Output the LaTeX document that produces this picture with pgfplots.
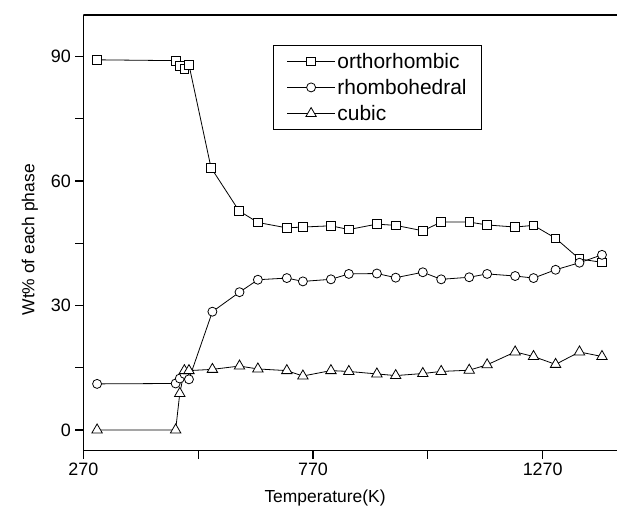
\documentclass[border=0pt]{standalone}
\usepackage{pgfplots}
\pgfplotsset{compat=1.18}
\usepackage{fontspec}
\setmainfont{Liberation Sans}
\pgfplotstableread{
T W
300 89.2
471 89.0
480 87.8
490 87.0
500 88.0
548 63.2
609 52.8
650 50.0
713 48.7
748 48.9
809 49.2
848 48.3
909 49.6
950 49.3
1009 48.0
1049 50.1
1110 50.1
1149 49.4
1210 48.9
1250 49.3
1298 46.2
1350 41.2
1399 40.4
}\ortho
\pgfplotstableread{
T W
300 11.1
471 11.2
480 12.4
490 13.5
500 12.2
551 28.5
610 33.2
650 36.2
713 36.6
748 35.8
809 36.3
848 37.6
909 37.7
950 36.7
1009 38.0
1049 36.3
1110 36.8
1149 37.6
1210 37.1
1250 36.6
1298 38.6
1350 40.3
1399 42.2
}\rhombo
\pgfplotstableread{
T W
300 0
471 0
480 8.8
490 14.3
500 14.3
551 14.6
610 15.4
650 14.7
713 14.3
748 13.0
809 14.3
848 14.1
909 13.5
950 13.1
1009 13.6
1049 14.1
1110 14.4
1149 15.7
1210 18.8
1250 17.7
1298 15.8
1350 18.8
1399 17.7
}\cubic
\begin{document}
\begin{tikzpicture}
\begin{axis}[name=ax,
  scale only axis, width=533.7bp, height=435.7bp,
  xmin=270, xmax=1431.7, ymin=-5, ymax=100,
  axis lines=left,
  every outer x axis line/.append style={-, line width=1.2bp},
  every outer y axis line/.append style={-, line width=1.2bp},
  tick align=outside, major tick length=8bp,
  tick style={line width=1.2bp, black},
  xtick={270,520,770,1020,1270}, xticklabels={270,,770,,1270},
  ytick={0,15,30,45,60,75,90}, yticklabels={0,,30,,60,,90},
  /pgf/number format/assume math mode=true,
  tick label style={font=\fontsize{18}{21}\selectfont},
  xticklabel style={yshift=-1bp},
  yticklabel style={xshift=-1bp},
  xlabel={Temperature(K)}, ylabel={Wt\% of each phase},
  label style={font=\fontsize{17.5}{21}\selectfont},
  xlabel style={at={(axis description cs:0.453,-0.1086)}, anchor=center},
  ylabel style={at={(axis description cs:-0.0999,0.484)}, anchor=center},
  legend style={at={(axis description cs:0.356,0.931)}, anchor=north west,
    draw=black, line width=0.8bp, font=\fontsize{21}{24}\selectfont,
    row sep=5.5bp, inner xsep=13bp, inner ysep=5.5bp},
  legend cell align=left,
  legend image code/.code={\draw[mark repeat=2,mark phase=2,#1] plot coordinates {(0bp,0bp) (24bp,0bp) (48bp,0bp)};},
  every axis plot/.append style={black, line width=0.8bp, mark options={fill=white, solid, line width=0.8bp}},
]
\draw[line width=1.2bp] (rel axis cs:0,1) -- (rel axis cs:1,1);
\addplot[mark=square*, mark size=4.3bp] table[x=T,y=W] {\ortho};
\addlegendentry{orthorhombic}
\addplot[mark=*, mark size=4.5bp] table[x=T,y=W] {\rhombo};
\addlegendentry{rhombohedral}
\addplot[mark=triangle*, mark size=6bp] table[x=T,y=W] {\cubic};
\addlegendentry{cubic}
\end{axis}
\pgfresetboundingbox
\path[use as bounding box] ([shift={(-83.3bp,-58.3bp)}]ax.south west) rectangle ([shift={(0bp,15bp)}]ax.north east);
\end{tikzpicture}
\end{document}
